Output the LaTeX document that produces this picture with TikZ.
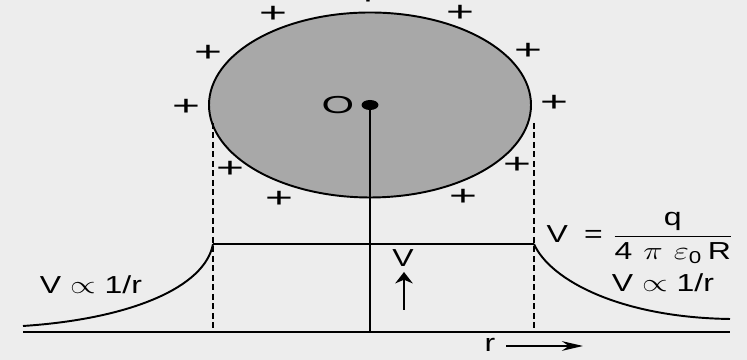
\documentclass[tikz,border=0pt]{standalone}
\usepackage{amsmath}
\usepackage{fontspec}
\setmainfont{Liberation Sans}
\usetikzlibrary{arrows.meta}
\definecolor{paper}{HTML}{EDEDED}
\definecolor{shade}{HTML}{A8A8A8}
\newcommand{\wide}[1]{\scalebox{1.3}[1]{#1}}
\tikzset{
  every picture/.style={line join=round, >=Stealth},
  lbl/.style={font=\fontsize{14}{16}\selectfont, inner sep=1pt},
  plus/.style={font=\fontsize{16}{16}\selectfont, inner sep=0pt},
  guide/.style={dash pattern=on 3.4pt off 2pt, line width=1.2pt},
  uparrow/.style={-{Stealth[length=6.5pt,width=10pt]}},
  rarrow/.style={-{Stealth[length=12pt,width=5.5pt]}},
}

\begin{document}
\begin{tikzpicture}[line width=1.1pt]
\useasboundingbox[fill=paper] (0,0) rectangle (14.94,7.2);
\draw[fill=shade] (7.4,5.1) ellipse [x radius=3.22, y radius=1.85];
\coordinate (o) at (7.4,5.1);
\fill (o) ellipse [x radius=0.17, y radius=0.1];
\node[lbl] (olbl) at (6.76,5.1) {\scalebox{1.7}[1]{O}};
\foreach \x/\y [count=\i] in {7.36/7.27, 5.46/6.92, 9.2/6.94, 4.16/6.14, 10.56/6.18,
  3.72/5.06, 11.08/5.14, 4.6/3.82, 10.34/3.9, 5.58/3.22, 9.26/3.26}
  \node[plus] (p\i) at (\x,\y) {\scalebox{1.7}[1]{+}};
% axis and potential
\coordinate (a0) at (0.46,0.56);
\coordinate (a1) at (14.6,0.56);
\coordinate (ab) at (7.4,0.56);
\coordinate (dl) at (4.26,4.74);
\coordinate (dlb) at (4.26,0.56);
\coordinate (dr) at (10.68,4.74);
\coordinate (drb) at (10.68,0.56);
\coordinate (vl) at (4.26,2.32);
\coordinate (vr) at (10.68,2.32);
\coordinate (cl) at (0.46,0.68);
\coordinate (cr) at (14.6,0.82);
\draw (a0) -- (a1);
\draw (o) -- (ab);
\draw[guide] (dl) -- (dlb) (dr) -- (drb);
\draw (vl) -- (vr);
\draw (vl) .. controls (4.1,1.45) and (2.6,0.82) .. (cl);
\draw (vr) .. controls (11.0,1.6) and (12.4,0.85) .. (cr);
% labels
\node[lbl] (lawl) at (1.82,1.5) {\wide{V $\propto$ 1/r}};
\node[lbl] (lawr) at (13.26,1.54) {\wide{V $\propto$ 1/r}};
\node[lbl, anchor=west] (vform) at (10.88,2.44)
  {\wide{V\hspace{7pt}=\hspace{4pt}$\dfrac{\text{q}}{\text{4}\,\,\pi\,\,\varepsilon_{\text{0}}\,\text{R}}$}};
\node[lbl] (vlbl) at (8.06,2.04) {\wide{V}};
\coordinate (vt) at (8.08,1.0);
\coordinate (vh) at (8.08,1.76);
\draw[uparrow] (vt) -- (vh);
\node[lbl] (rlbl) at (9.8,0.3) {\wide{r}};
\coordinate (rt) at (10.12,0.28);
\coordinate (rh) at (11.66,0.28);
\draw[rarrow] (rt) -- (rh);
\end{tikzpicture}
\end{document}
